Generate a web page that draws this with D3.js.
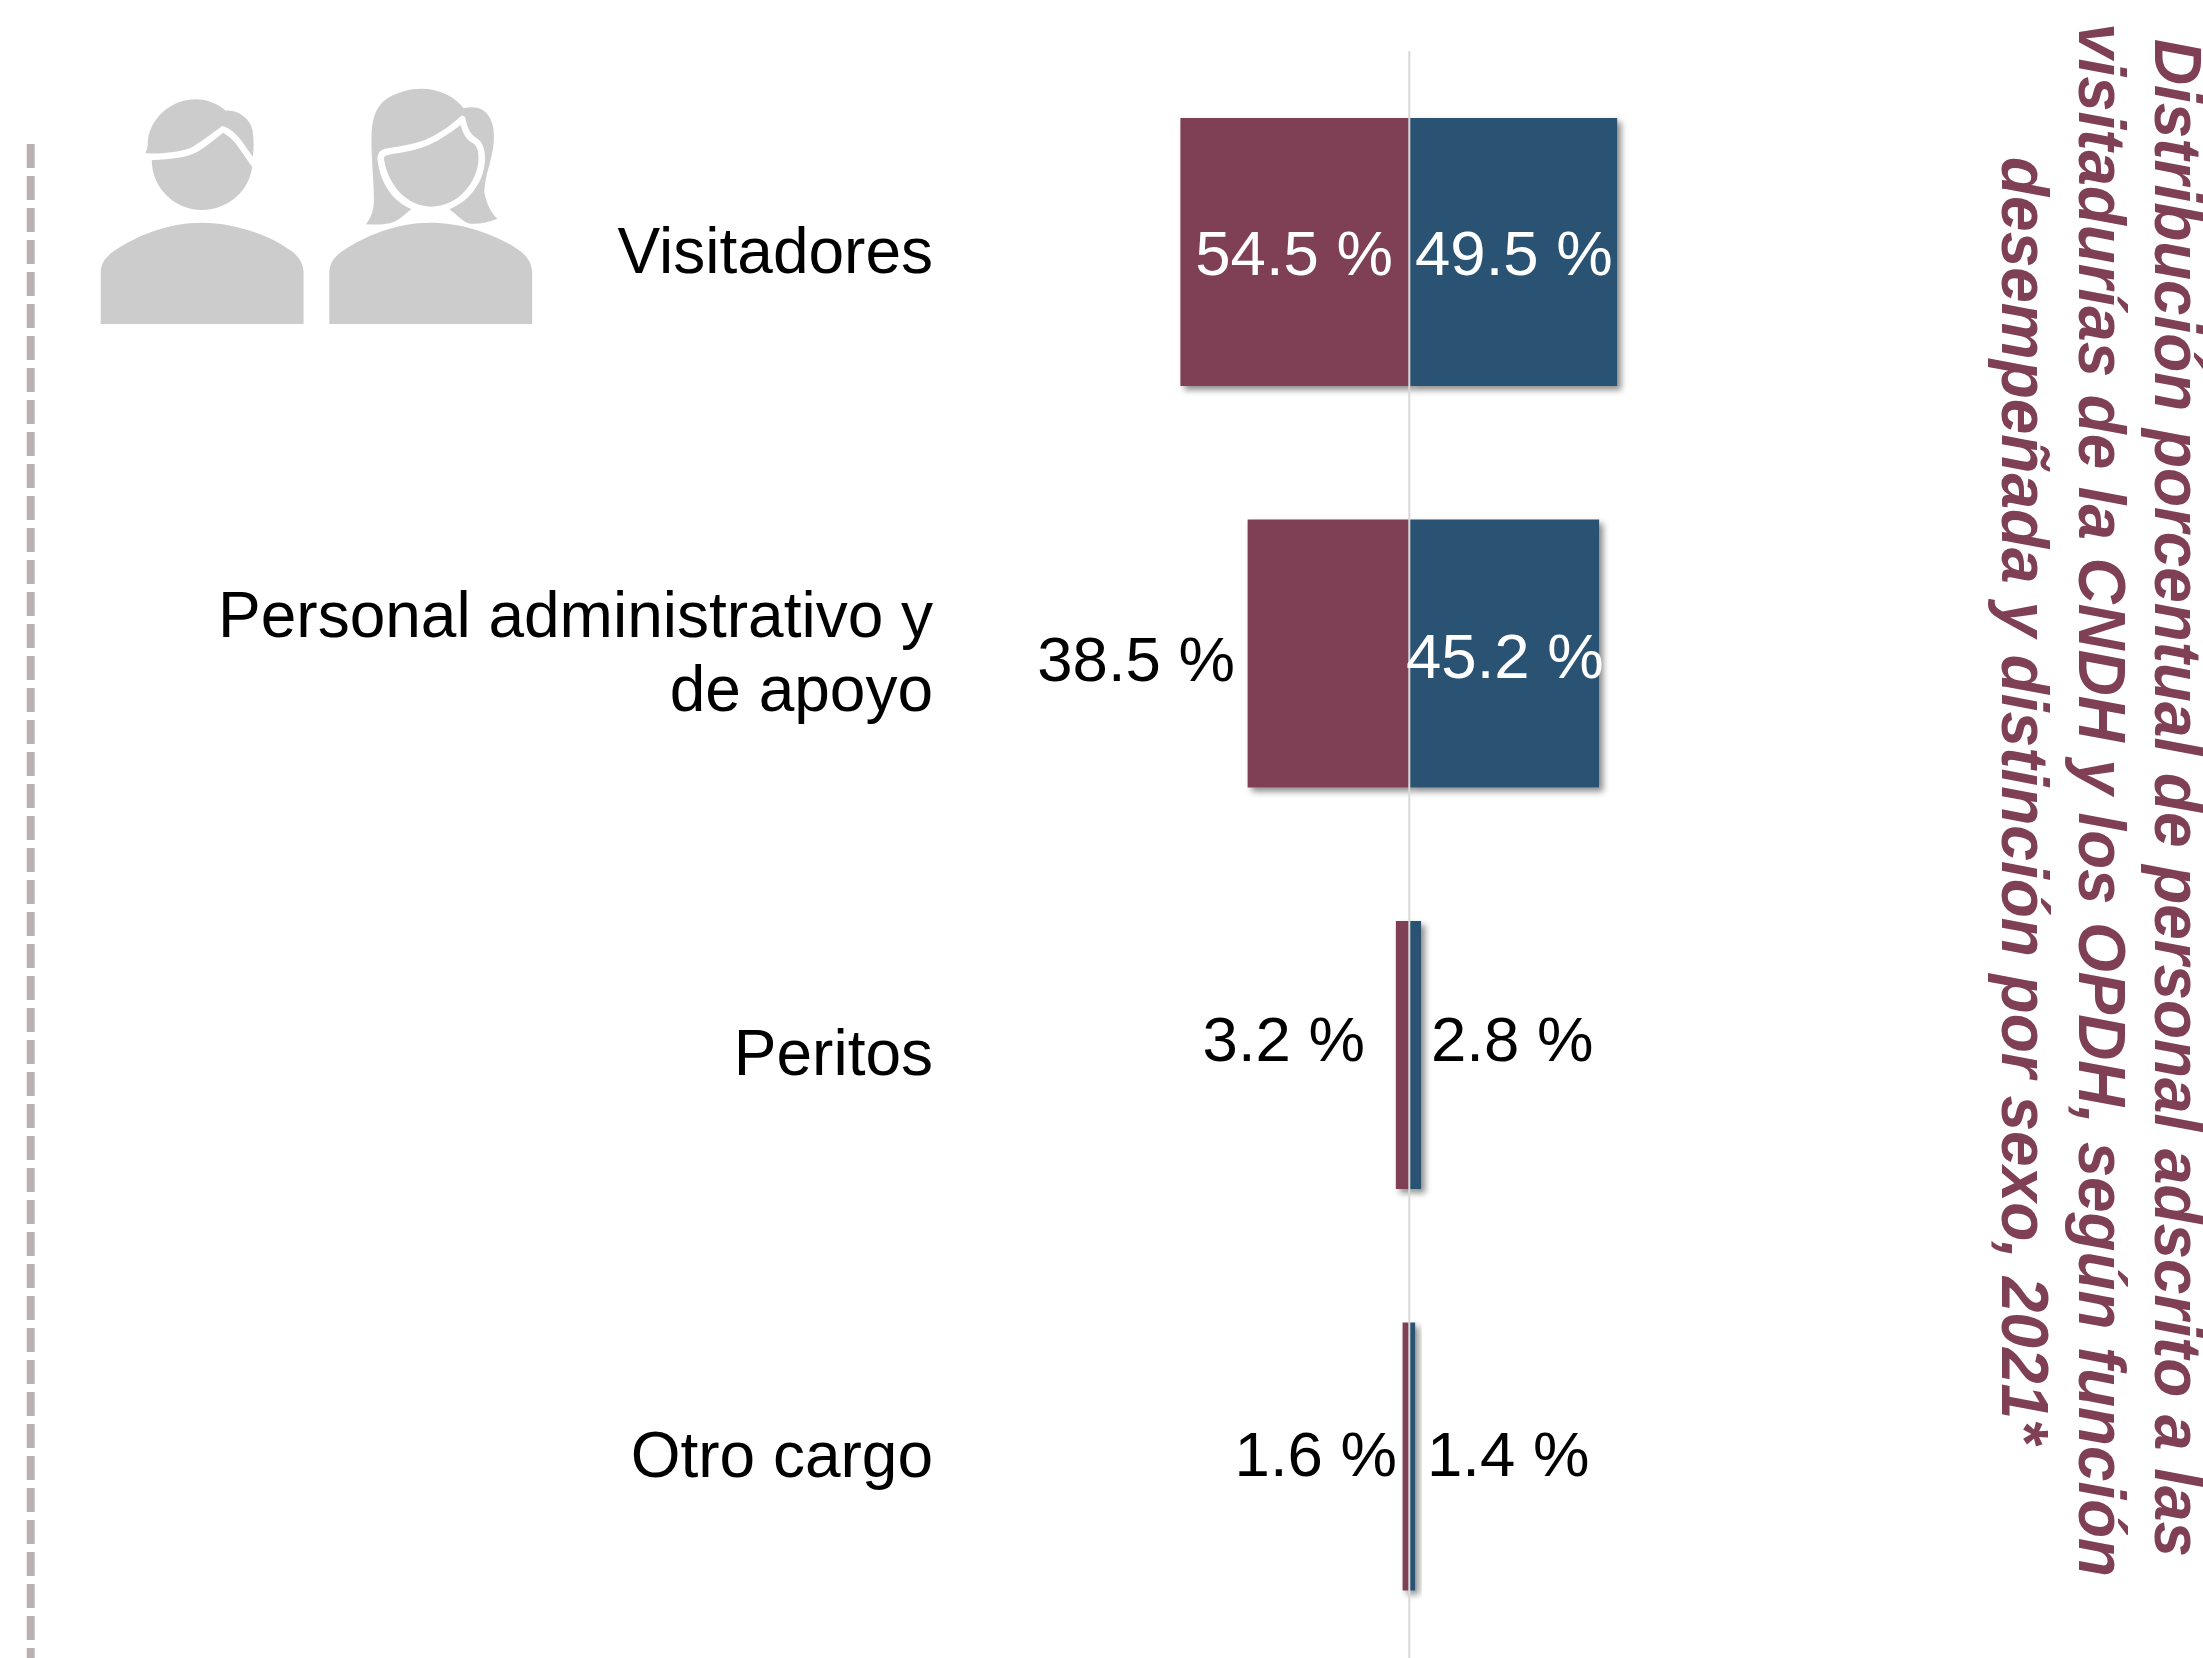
<!DOCTYPE html>
<html><head><meta charset="utf-8">
<script src="https://cdn.jsdelivr.net/npm/d3@7"></script>
<style>html,body{margin:0;padding:0;background:#fff}svg{display:block}text{font-family:"Liberation Sans",Arial,sans-serif}</style>
</head><body><div id="chart"></div>
<script>
const categories = ["Visitadores","Personal administrativo y de apoyo","Peritos","Otro cargo"];
const mujeres = [54.5,38.5,3.2,1.6];
const hombres = [49.5,45.2,2.8,1.4];
const titleLines = ["Distribución porcentual de personal adscrito a las","visitadurías de la CNDH y los OPDH, según función","desempeñada y distinción por sexo, 2021*"];
const categoryLines = [["Visitadores"],["Personal administrativo y","de apoyo"],["Peritos"],["Otro cargo"]];

const W=2203,H=1658,C="#7f4055",B="#2b5273";
const svg=d3.select("#chart").append("svg").attr("width",W).attr("height",H).attr("viewBox",`0 0 ${W} ${H}`);
const defs=svg.append("defs");
const f=defs.append("filter").attr("id","sh").attr("x","-50%").attr("y","-10%").attr("width","250%").attr("height","125%");
f.append("feDropShadow").attr("dx",4).attr("dy",4).attr("stdDeviation",3).attr("flood-color","#000").attr("flood-opacity",.45);

const x=d3.scaleLinear().domain([-100,100]).range([1409.3-420,1409.3+420]);
const y=d3.scaleBand().domain(categories).range([118,1590.5]).paddingInner(.3325).paddingOuter(0);

// separator
svg.append("line").attr("x1",30.7).attr("x2",30.7).attr("y1",144).attr("y2",H)
  .attr("stroke","#b9b1b1").attr("stroke-width",8).attr("stroke-dasharray","24 8");

// icons
const ic=svg.append("g").attr("transform","translate(0,60) scale(0.35714,0.33333)").attr("fill","#cccccc");
const body="M282 792V640C282 610 296 590 318 574C380 528 470 488 566 488C660 488 760 528 820 576C838 592 850 612 850 640V792Z";
ic.append("path").attr("d",body);
ic.append("path").attr("d",body).attr("transform","translate(640,0)");
ic.append("path").attr("d","M425 300C480 298 525 292 552 276C580 258 605 235 625 218C640 228 655 240 665 258C680 280 695 305 706 320C698 395 635 450 565 450C490 450 425 385 425 300Z");
ic.append("path").attr("d","M407 280C412 268 414 260 414 245C418 180 475 118 548 118C580 118 610 132 632 152C665 148 700 175 707 210C711 240 711 265 708 290C695 272 682 250 672 236C660 220 640 202 622 198C600 215 570 240 540 260C510 276 450 282 407 280Z");
ic.append("path").attr("d","M1025 493C1040 470 1047 450 1047 420C1047 370 1040 300 1040 240C1040 180 1050 140 1085 115C1115 95 1150 86 1180 86C1230 86 1275 110 1298 145C1315 140 1335 140 1348 148C1375 165 1383 195 1383 230C1383 290 1358 340 1356 395C1360 425 1375 460 1393 476C1370 486 1340 493 1318 491C1300 490 1285 470 1259 448C1320 420 1358 360 1358 295C1358 265 1350 245 1335 235C1315 222 1308 200 1303 175C1300 165 1292 166 1287 172C1260 198 1225 225 1190 240C1150 256 1110 260 1078 266C1062 270 1056 285 1057 300C1065 370 1100 425 1152 447C1135 462 1120 478 1103 486C1080 495 1050 494 1025 493Z");
ic.append("path").attr("d","M1075 295C1075 288 1085 285 1095 283C1130 278 1170 270 1205 253C1235 238 1265 215 1290 195C1296 220 1305 240 1325 250C1338 260 1340 280 1340 295C1338 370 1280 440 1207 440C1140 440 1085 375 1075 295Z");

// bars
const g=svg.append("g");
g.selectAll("rect.m").data(categories).join("rect").attr("class","m")
  .attr("x",(d,i)=>x(-mujeres[i])).attr("width",(d,i)=>x(0)-x(-mujeres[i]))
  .attr("y",d=>y(d)).attr("height",y.bandwidth()).attr("fill",C).attr("filter","url(#sh)");
g.selectAll("rect.h").data(categories).join("rect").attr("class","h")
  .attr("x",x(0)).attr("width",(d,i)=>x(hombres[i])-x(0))
  .attr("y",d=>y(d)).attr("height",y.bandwidth()).attr("fill",B).attr("filter","url(#sh)");

// centre axis
svg.append("line").attr("x1",x(0)).attr("x2",x(0)).attr("y1",51).attr("y2",H)
  .attr("stroke","#d9d9d9").attr("stroke-width",2);

// value labels
const lab=svg.append("g").attr("font-size",63.5);
const leftEnd=[1393,1235,1365,1397], rightStart=[1415,1406,1431,1427];
const baseL=[275,681,1061,1476], baseR=[275,678,1061,1476];
const inL=[true,false,false,false], inR=[true,true,false,false];
lab.selectAll("text.m").data(categories).join("text").attr("class","m").attr("text-anchor","end")
  .attr("x",(d,i)=>leftEnd[i]).attr("y",(d,i)=>baseL[i]).attr("fill",(d,i)=>inL[i]?"#fff":"#000")
  .text((d,i)=>d3.format(".1f")(mujeres[i])+" %");
lab.selectAll("text.h").data(categories).join("text").attr("class","h")
  .attr("x",(d,i)=>rightStart[i]).attr("y",(d,i)=>baseR[i]).attr("fill",(d,i)=>inR[i]?"#fff":"#000")
  .text((d,i)=>d3.format(".1f")(hombres[i])+" %");

// category labels
const catBase=[[273],[637,711],[1075],[1477]];
const cg=svg.append("g").attr("font-size",64).attr("text-anchor","end").attr("fill","#000");
categoryLines.forEach((ls,i)=>ls.forEach((t,j)=>cg.append("text").attr("x",933).attr("y",catBase[i][j]).text(t)));

// title
const tg=svg.append("g").attr("font-size",66).attr("font-weight","bold").attr("font-style","italic").attr("fill",C).attr("text-anchor","middle");
const tx=[2155,2078.5,2002], ty=[798,800,800.5], tl=[1518,1554,1287];
titleLines.forEach((t,i)=>tg.append("text").attr("transform",`translate(${tx[i]},${ty[i]}) rotate(90)`)
  .attr("textLength",tl[i]).attr("lengthAdjust","spacingAndGlyphs").text(t));
</script></body></html>
